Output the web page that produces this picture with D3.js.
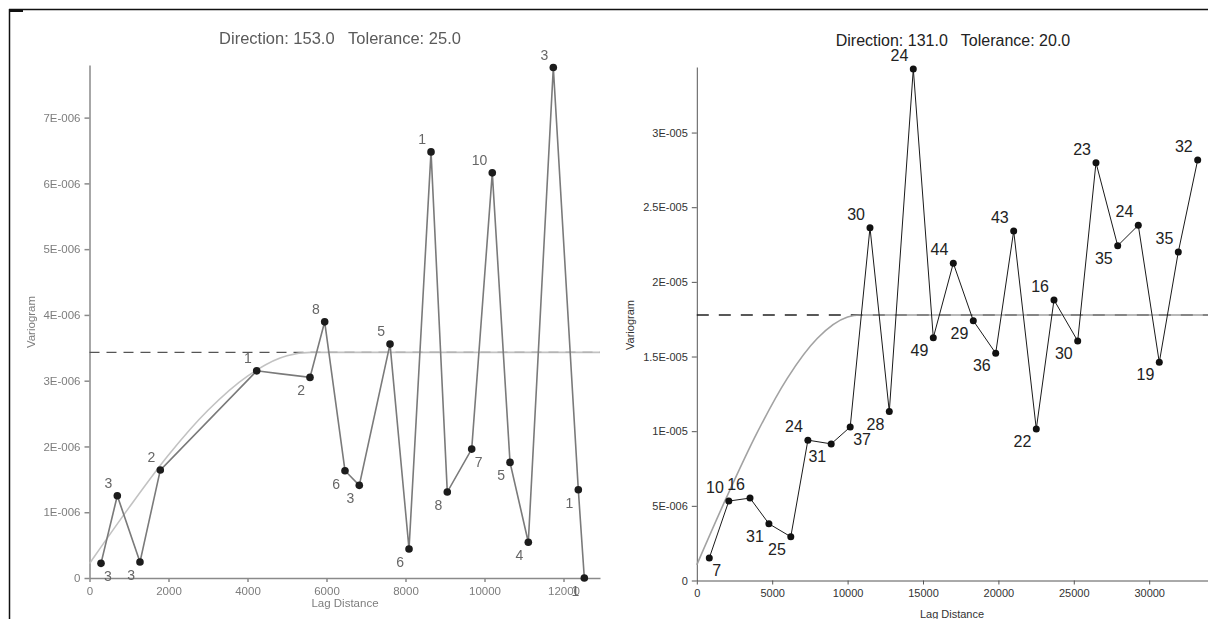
<!DOCTYPE html>
<html>
<head>
<meta charset="utf-8">
<script src="https://cdn.jsdelivr.net/npm/d3@7"></script>
<style>
  body { margin: 0; background: #fff; }
  svg { display: block; font-family: "Liberation Sans", Arial, sans-serif; }
</style>
</head>
<body>
<div id="chart"></div>
<script>
// ---- left variogram (direction 153, tolerance 25) ----
var leftTitle = "Direction: 153.0   Tolerance: 25.0";
var leftLag = [291, 704, 1278, 1792, 4233, 5582, 5954, 6468, 6830, 7608,
  8089, 8646, 9058, 9676, 10197, 10646, 11109, 11742, 12375, 12527];
var leftGamma = [0.223e-6, 1.251e-6, 0.243e-6, 1.641e-6, 3.150e-6, 3.050e-6, 3.895e-6, 1.631e-6, 1.409e-6, 3.556e-6,
  0.441e-6, 6.479e-6, 1.307e-6, 1.960e-6, 6.160e-6, 1.758e-6, 0.543e-6, 7.761e-6, 1.342e-6, 0];
var leftPairs = [3, 3, 3, 2, 1, 2, 8, 6, 3, 5, 6, 1, 8, 7, 10, 5, 4, 3, 1, 1];
var leftLabelPos = ["br", "al", "bl", "al", "al", "bl", "al", "bl", "bl", "al",
  "bl", "al", "bl", "br", "al", "bl", "bl", "al", "bl", "bl"];
var leftXTicks = [0, 2000, 4000, 6000, 8000, 10000, 12000];
var leftYTicks = [0, 1e-6, 2e-6, 3e-6, 4e-6, 5e-6, 6e-6, 7e-6];
var leftSill = 3.43e-6;
// fitted model
var leftModelLag = [0, 1000, 2000, 3000, 4000, 5000, 5600, 12924];
var leftModelGamma = [0.22e-6, 1.07e-6, 1.87e-6, 2.55e-6, 3.07e-6, 3.38e-6, 3.43e-6, 3.43e-6];

// ---- right variogram (direction 131, tolerance 20) ----
var rightTitle = "Direction: 131.0   Tolerance: 20.0";
var rightLag = [829, 2122, 3528, 4781, 6233, 7367, 8912, 10172, 11485, 12765,
  14357, 15683, 17010, 18336, 19821, 21015, 22513, 23687, 25259, 26472,
  27911, 29277, 30670, 31930, 33216];
var rightGamma = [1.51e-6, 5.32e-6, 5.52e-6, 3.80e-6, 2.93e-6, 9.40e-6, 9.15e-6, 10.28e-6, 23.63e-6, 11.31e-6,
  34.26e-6, 16.26e-6, 21.25e-6, 17.40e-6, 15.22e-6, 23.41e-6, 10.15e-6, 18.79e-6, 16.04e-6, 27.98e-6,
  22.42e-6, 23.79e-6, 14.61e-6, 22.00e-6, 28.16e-6];
var rightPairs = [7, 10, 16, 31, 25, 24, 31, 37, 30, 28, 24, 49, 44, 29, 36, 43, 22, 16, 30, 23, 35, 24, 19, 35, 32];
var rightLabelPos = ["br", "al", "al", "bl", "bl", "al", "bl", "br", "al", "bl",
  "al", "bl", "al", "bl", "bl", "al", "bl", "al", "bl", "al", "bl", "al", "bl", "al", "al"];
var rightXTicks = [0, 5000, 10000, 15000, 20000, 25000, 30000];
var rightYTicks = [0, 5e-6, 1e-5, 1.5e-5, 2e-5, 2.5e-5, 3e-5];
var rightSill = 17.78e-6;
var rightModelLag = [0, 2000, 4000, 6000, 8000, 10000, 10820, 33900];
var rightModelGamma = [1.05e-6, 5.63e-6, 9.90e-6, 13.54e-6, 16.22e-6, 17.64e-6, 17.78e-6, 17.78e-6];

var W = 1208, H = 619;

var svg = d3.select("#chart").append("svg")
  .attr("width", W).attr("height", H);

// light blur for the scanned-looking left panel
svg.append("defs").append("filter").attr("id", "soft")
  .append("feGaussianBlur").attr("stdDeviation", 0.35);

// outer frame (top and left edge only)
svg.append("line").attr("x1", 9).attr("x2", W).attr("y1", 9.5).attr("y2", 9.5)
  .attr("stroke", "#111").attr("stroke-width", 1.5);
svg.append("line").attr("x1", 9.5).attr("x2", 9.5).attr("y1", 9).attr("y2", H)
  .attr("stroke", "#111").attr("stroke-width", 1.5);
svg.append("rect").attr("x", 9).attr("y", 9).attr("width", 14).attr("height", 3).attr("fill", "#111");

function sciLabel(v) {
  if (v === 0) return "0";
  var e = Math.floor(Math.log10(v) + 1e-9);
  var m = +(v / Math.pow(10, e)).toFixed(2);
  return m + "E-" + String(-e).padStart(3, "0");
}

function drawPanel(p) {
  var g = svg.append("g");
  if (p.blur) g.attr("filter", "url(#soft)");

  var x = d3.scaleLinear().domain(p.xDomain).range([p.left, p.right]);
  var y = d3.scaleLinear().domain(p.yDomain).range([p.bottom, p.top]);

  // title
  g.append("text")
    .attr("x", p.titleX).attr("y", p.titleY)
    .attr("text-anchor", "middle")
    .style("white-space", "pre")
    .attr("font-size", p.titleSize)
    .attr("fill", p.titleColor)
    .text(p.title);

  // axes
  var xAxis = g.append("g").attr("transform", "translate(0," + p.bottom + ")")
    .call(d3.axisBottom(x).tickValues(p.xTicks).tickSize(4).tickSizeOuter(0).tickPadding(p.xPad)
      .tickFormat(d3.format("d")));
  var yAxis = g.append("g").attr("transform", "translate(" + p.left + ",0)")
    .call(d3.axisLeft(y).tickValues(p.yTicks).tickSize(5).tickSizeOuter(0).tickPadding(4)
      .tickFormat(sciLabel));
  [xAxis, yAxis].forEach(function(a) {
    a.select(".domain").attr("stroke", p.axisColor).attr("stroke-width", p.axisWidth);
    a.selectAll(".tick line").attr("stroke", p.axisColor).attr("stroke-width", p.axisWidth);
    a.selectAll(".tick text").attr("fill", p.tickColor)
      .attr("font-size", p.tickSize).attr("font-family", "Liberation Sans, Arial, sans-serif");
  });

  // axis titles
  g.append("text")
    .attr("x", p.xTitleX).attr("y", p.xTitleY)
    .attr("text-anchor", "middle").attr("font-size", p.tickSize).attr("fill", p.tickColor)
    .text("Lag Distance");
  g.append("text")
    .attr("transform", "translate(" + p.yTitleX + "," + p.yTitleY + ") rotate(-90)")
    .attr("text-anchor", "middle").attr("font-size", p.tickSize).attr("fill", p.tickColor)
    .attr("dy", "0.35em")
    .text("Variogram");

  // sill (dashed), mostly hidden under the model once it levels off
  g.append("line")
    .attr("x1", x(0)).attr("x2", p.right)
    .attr("y1", y(p.sill)).attr("y2", y(p.sill))
    .attr("stroke", p.sillColor).attr("stroke-width", 1.4)
    .attr("stroke-dasharray", p.dash);

  // model curve
  var model = p.modelLag.map(function(d, i) { return [d, p.modelGamma[i]]; });
  g.append("path")
    .datum(model)
    .attr("fill", "none")
    .attr("stroke", p.modelColor).attr("stroke-width", 1.6)
    .attr("stroke-opacity", 0.92)
    .attr("d", d3.line()
      .x(function(d) { return x(d[0]); })
      .y(function(d) { return y(d[1]); })
      .curve(d3.curveMonotoneX));

  // experimental variogram
  var pts = p.lag.map(function(d, i) {
    return { lag: d, gamma: p.gamma[i], n: p.pairs[i], pos: p.labelPos[i] };
  });
  g.append("path")
    .datum(pts)
    .attr("fill", "none")
    .attr("stroke", p.lineColor).attr("stroke-width", p.lineWidth)
    .attr("d", d3.line()
      .x(function(d) { return x(d.lag); })
      .y(function(d) { return y(d.gamma); }));

  g.selectAll("circle.pt")
    .data(pts)
    .enter().append("circle")
    .attr("class", "pt")
    .attr("cx", function(d) { return x(d.lag); })
    .attr("cy", function(d) { return y(d.gamma); })
    .attr("r", p.dotR)
    .attr("fill", p.dotColor);

  g.selectAll("text.cnt")
    .data(pts)
    .enter().append("text")
    .attr("class", "cnt")
    .attr("x", function(d) { return x(d.lag) + (d.pos === "br" ? 3 : -5); })
    .attr("y", function(d) { return y(d.gamma) + (d.pos === "al" ? -8 : 18); })
    .attr("text-anchor", function(d) { return d.pos === "br" ? "start" : "end"; })
    .attr("font-size", p.countSize)
    .attr("fill", p.countColor)
    .text(function(d) { return d.n; });
}

drawPanel({
  title: leftTitle, lag: leftLag, gamma: leftGamma, pairs: leftPairs, labelPos: leftLabelPos,
  xTicks: leftXTicks, yTicks: leftYTicks, sill: leftSill,
  modelLag: leftModelLag, modelGamma: leftModelGamma,
  xDomain: [0, 12924], yDomain: [0, 7.8e-6],
  left: 89.5, right: 600, bottom: 578, top: 65,
  titleX: 340, titleY: 44, titleSize: 16.5, titleColor: "#5a5a5a",
  xTitleX: 345, xTitleY: 607, yTitleX: 31, yTitleY: 322,
  xPad: 5, axisColor: "#8a8a8a", axisWidth: 1.5, tickColor: "#7d7d7d", tickSize: 11.5,
  sillColor: "#555", dash: "10,7", modelColor: "#bdbdbd",
  lineColor: "#7a7a7a", lineWidth: 1.6, dotR: 3.8, dotColor: "#1b1b1b",
  countSize: 14, countColor: "#666", blur: true
});

drawPanel({
  title: rightTitle, lag: rightLag, gamma: rightGamma, pairs: rightPairs, labelPos: rightLabelPos,
  xTicks: rightXTicks, yTicks: rightYTicks, sill: rightSill,
  modelLag: rightModelLag, modelGamma: rightModelGamma,
  xDomain: [0, 33900], yDomain: [0, 34.39e-6],
  left: 696.8, right: 1208, bottom: 580.5, top: 67,
  titleX: 953, titleY: 46, titleSize: 16, titleColor: "#222",
  xTitleX: 952, xTitleY: 618, yTitleX: 630, yTitleY: 325,
  xPad: 5, axisColor: "#555", axisWidth: 1, tickColor: "#333", tickSize: 11,
  sillColor: "#222", dash: "12,10", modelColor: "#9a9a9a",
  lineColor: "#1a1a1a", lineWidth: 1, dotR: 3.5, dotColor: "#111",
  countSize: 16, countColor: "#222", blur: false
});
</script>
</body>
</html>
